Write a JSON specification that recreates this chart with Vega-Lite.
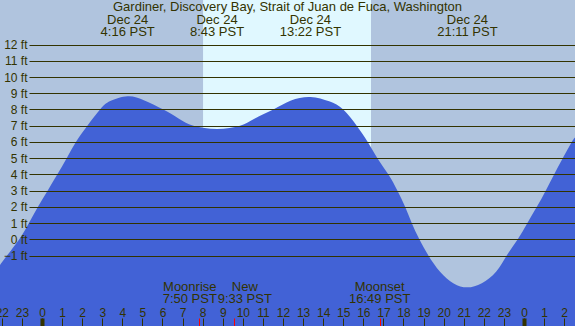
{
  "$schema": "https://vega.github.io/schema/vega-lite/v6.json",
  "width": 575,
  "height": 326,
  "autosize": {"type": "none"},
  "padding": 0,
  "background": "#B0C4DE",
  "title": {
    "text": "Gardiner, Discovery Bay, Strait of Juan de Fuca, Washington",
    "anchor": "middle",
    "frame": "group",
    "offset": -24,
    "baseline": "alphabetic",
    "font": "Liberation Sans",
    "fontSize": 13,
    "fontWeight": "normal",
    "color": "#333300"
  },
  "config": {"view": {"stroke": null}, "font": "Liberation Sans"},
  "datasets": {
    "bg": [
      {"start": -2.09, "end": 8.02, "period": "night"},
      {"start": 8.02, "end": 16.385, "period": "day"},
      {"start": 16.385, "end": 26.54, "period": "night"}
    ],
    "tide": [
      {"hour": -2.09, "feet": -1.58},
      {"hour": -1.74, "feet": -1.0},
      {"hour": -1.13, "feet": 0.0},
      {"hour": -0.65, "feet": 1.0},
      {"hour": -0.2, "feet": 2.0},
      {"hour": 0.28, "feet": 3.0},
      {"hour": 0.76, "feet": 4.0},
      {"hour": 1.23, "feet": 5.0},
      {"hour": 1.69, "feet": 6.0},
      {"hour": 2.26, "feet": 7.0},
      {"hour": 2.89, "feet": 8.0},
      {"hour": 3.4, "feet": 8.52},
      {"hour": 4.27, "feet": 8.82},
      {"hour": 5.1, "feet": 8.56},
      {"hour": 6.04, "feet": 8.0},
      {"hour": 6.8, "feet": 7.45},
      {"hour": 7.54, "feet": 7.0},
      {"hour": 8.72, "feet": 6.8},
      {"hour": 9.86, "feet": 7.0},
      {"hour": 10.6, "feet": 7.45},
      {"hour": 11.52, "feet": 8.0},
      {"hour": 12.4, "feet": 8.55},
      {"hour": 13.37, "feet": 8.77},
      {"hour": 14.3, "feet": 8.5},
      {"hour": 15.0, "feet": 8.0},
      {"hour": 15.67, "feet": 7.0},
      {"hour": 16.22, "feet": 6.0},
      {"hour": 16.7, "feet": 5.0},
      {"hour": 17.25, "feet": 4.0},
      {"hour": 17.7, "feet": 3.0},
      {"hour": 18.08, "feet": 2.0},
      {"hour": 18.41, "feet": 1.0},
      {"hour": 18.79, "feet": 0.0},
      {"hour": 19.24, "feet": -1.0},
      {"hour": 19.82, "feet": -2.0},
      {"hour": 20.5, "feet": -2.72},
      {"hour": 21.18, "feet": -2.96},
      {"hour": 21.9, "feet": -2.7},
      {"hour": 22.61, "feet": -2.0},
      {"hour": 23.14, "feet": -1.0},
      {"hour": 23.69, "feet": 0.0},
      {"hour": 24.17, "feet": 1.0},
      {"hour": 24.64, "feet": 2.0},
      {"hour": 25.08, "feet": 3.0},
      {"hour": 25.5, "feet": 4.0},
      {"hour": 25.93, "feet": 5.0},
      {"hour": 26.38, "feet": 6.0},
      {"hour": 26.54, "feet": 6.28}
    ],
    "extremes": [
      {"hour": 4.267, "label": "Dec 24\n4:16 PST"},
      {"hour": 8.717, "label": "Dec 24\n8:43 PST"},
      {"hour": 13.367, "label": "Dec 24\n13:22 PST"},
      {"hour": 21.183, "label": "Dec 24\n21:11 PST"}
    ],
    "moon": [
      {"hour": 7.833, "event": "Moonrise", "label": "Moonrise\n7:50 PST"},
      {"hour": 9.55, "event": "New", "label": "New\n9:33 PST"},
      {"hour": 16.817, "event": "Moonset", "label": "Moonset\n16:49 PST"}
    ]
  },
  "layer": [
    {
      "data": {"name": "bg"},
      "mark": {"type": "rect"},
      "encoding": {
        "x": {
          "field": "start", "type": "quantitative",
          "scale": {"domain": [-2.09, 26.54], "nice": false, "zero": false},
          "axis": {
            "orient": "bottom", "title": null, "domain": false, "grid": false,
            "values": [-2,-1,0,1,2,3,4,5,6,7,8,9,10,11,12,13,14,15,16,17,18,19,20,21,22,23,24,25,26],
            "labelExpr": "'' + ((datum.value % 24 + 24) % 24)",
            "tickSize": -8, "tickWidth": 1, "tickColor": "#333300",
            "labelPadding": -2, "labelBaseline": "alphabetic",
            "labelFontSize": 12, "labelColor": "#333300", "labelFont": "Liberation Sans",
            "labelFlush": false, "labelOverlap": false, "labelBound": false,
            "zindex": 2
          }
        },
        "x2": {"field": "end"},
        "color": {
          "field": "period", "type": "nominal",
          "scale": {"domain": ["night", "day"], "range": ["#B0C4DE", "#E0F8FF"]},
          "legend": null
        }
      }
    },
    {
      "data": {"name": "tide"},
      "mark": {"type": "area", "interpolate": "natural", "color": "#4262D6"},
      "encoding": {
        "x": {
          "field": "hour", "type": "quantitative",
          "scale": {"domain": [-2.09, 26.54], "nice": false, "zero": false},
          "axis": {
            "orient": "bottom", "title": null, "domain": false, "grid": false,
            "values": [0, 24], "labels": false,
            "tickSize": -8, "tickWidth": 4, "tickColor": "#333300",
            "zindex": 3
          }
        },
        "y": {
          "field": "feet", "type": "quantitative",
          "scale": {"domain": [-5.34, 14.745], "nice": false, "zero": false},
          "axis": {
            "orient": "left", "offset": -29, "title": null, "domain": false, "grid": false,
            "values": [-1,0,1,2,3,4,5,6,7,8,9,10,11,12],
            "labelExpr": "datum.label + ' ft'",
            "tickSize": -546, "tickWidth": 1, "tickColor": "#333300",
            "labelPadding": 548, "labelAlign": "right", "labelBaseline": "middle",
            "labelFontSize": 12, "labelColor": "#333300", "labelFont": "Liberation Sans",
            "labelOverlap": false, "labelBound": false, "labelFlush": false,
            "zindex": 1
          }
        },
        "y2": {"datum": -5.34}
      }
    },
    {
      "data": {"name": "extremes"},
      "mark": {"type": "text", "lineBreak": "\n", "baseline": "alphabetic", "align": "center", "fontSize": 13, "lineHeight": 12, "color": "#333300", "font": "Liberation Sans"},
      "encoding": {
        "x": {"field": "hour", "type": "quantitative", "scale": {"domain": [-2.09, 26.54], "nice": false, "zero": false}, "axis": null},
        "y": {"datum": 13.266, "type": "quantitative", "scale": {"domain": [-5.34, 14.745], "nice": false, "zero": false}, "axis": null},
        "text": {"field": "label"}
      }
    },
    {
      "data": {"name": "moon"},
      "transform": [{"filter": "datum.event == 'Moonrise'"}],
      "mark": {"type": "text", "lineBreak": "\n", "baseline": "alphabetic", "align": "center", "dx": -9.5, "fontSize": 13, "lineHeight": 12.6, "color": "#333300", "font": "Liberation Sans"},
      "encoding": {
        "x": {"field": "hour", "type": "quantitative", "scale": {"domain": [-2.09, 26.54], "nice": false, "zero": false}, "axis": null},
        "y": {"datum": -3.166, "type": "quantitative", "scale": {"domain": [-5.34, 14.745], "nice": false, "zero": false}, "axis": null},
        "text": {"field": "label"}
      }
    },
    {
      "data": {"name": "moon"},
      "transform": [{"filter": "datum.event == 'New'"}],
      "mark": {"type": "text", "lineBreak": "\n", "baseline": "alphabetic", "align": "center", "dx": 11, "fontSize": 13, "lineHeight": 12.6, "color": "#333300", "font": "Liberation Sans"},
      "encoding": {
        "x": {"field": "hour", "type": "quantitative", "scale": {"domain": [-2.09, 26.54], "nice": false, "zero": false}, "axis": null},
        "y": {"datum": -3.166, "type": "quantitative", "scale": {"domain": [-5.34, 14.745], "nice": false, "zero": false}, "axis": null},
        "text": {"field": "label"}
      }
    },
    {
      "data": {"name": "moon"},
      "transform": [{"filter": "datum.event == 'Moonset'"}],
      "mark": {"type": "text", "lineBreak": "\n", "baseline": "alphabetic", "align": "center", "fontSize": 13, "lineHeight": 12.6, "color": "#333300", "font": "Liberation Sans"},
      "encoding": {
        "x": {
          "field": "hour", "type": "quantitative",
          "scale": {"domain": [-2.09, 26.54], "nice": false, "zero": false},
          "axis": {
            "orient": "bottom", "title": null, "domain": false, "grid": false,
            "values": [7.833, 9.55, 16.817], "labels": false,
            "tickSize": -8, "tickWidth": 1, "tickColor": "#FF0000",
            "zindex": 4
          }
        },
        "y": {"datum": -3.166, "type": "quantitative", "scale": {"domain": [-5.34, 14.745], "nice": false, "zero": false}, "axis": null},
        "text": {"field": "label"}
      }
    }
  ],
  "resolve": {"axis": {"x": "independent", "y": "independent"}}
}
